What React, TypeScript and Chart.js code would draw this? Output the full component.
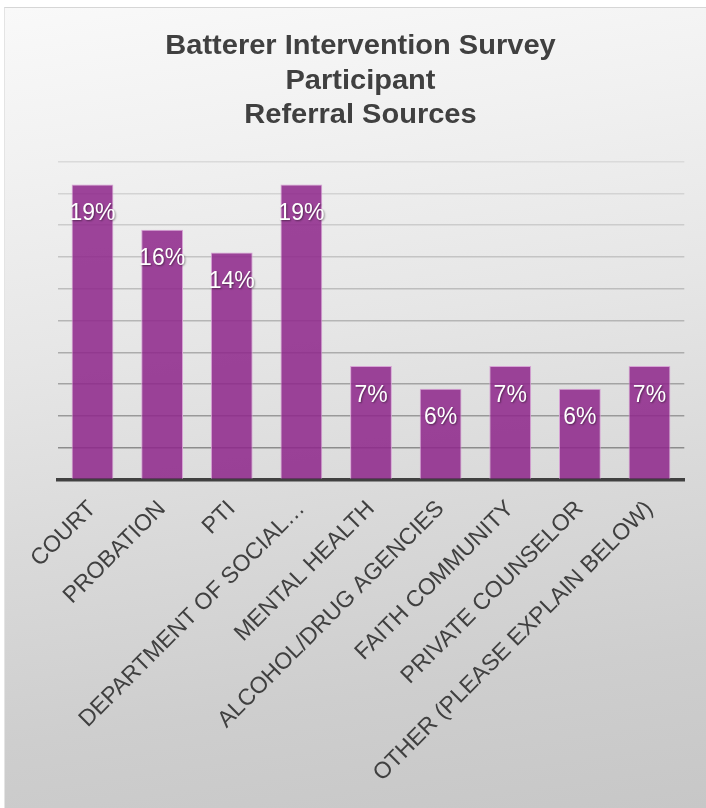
import React, { useEffect, useRef } from 'react';
import { Chart, registerables } from 'chart.js';

Chart.register(...registerables);

// ---- Data ----
const categories = [
  'COURT',
  'PROBATION',
  'PTI',
  'DEPARTMENT OF SOCIAL…',
  'MENTAL HEALTH',
  'ALCOHOL/DRUG AGENCIES',
  'FAITH COMMUNITY',
  'PRIVATE COUNSELOR',
  'OTHER (PLEASE EXPLAIN BELOW)',
];
const percentValues = [18.57, 15.71, 14.29, 18.57, 7.14, 5.71, 7.14, 5.71, 7.14];
const titleLines = ['Batterer Intervention Survey', 'Participant', 'Referral Sources'];
const yMin = 0;
const yMax = 20;
const yStep = 2;

// ---- Layout / style ----
const CANVAS_W = 702;
const CANVAS_H = 801;
const FONT = '"Liberation Sans", Arial, Helvetica, sans-serif';

const titlePlugin = {
  id: 'stackedTitle',
  afterDraw(chart: any) {
    const ctx = chart.ctx;
    titleLines.forEach((line, i) => {
      ctx.save();
      ctx.font = `bold 27px ${FONT}`;
      ctx.fillStyle = '#404040';
      ctx.textAlign = 'center';
      ctx.textBaseline = 'alphabetic';
      ctx.translate(356.5, 47 + i * 34.5);
      ctx.scale(1.075, 1);
      ctx.fillText(line, 0, 0);
      ctx.restore();
    });
  },
};

const valueLabelPlugin = {
  id: 'valueLabels',
  afterDatasetsDraw(chart: any) {
    const ctx = chart.ctx;
    const meta = chart.getDatasetMeta(0);
    ctx.save();
    ctx.font = `23px ${FONT}`;
    ctx.fillStyle = '#ffffff';
    ctx.textAlign = 'center';
    ctx.textBaseline = 'alphabetic';
    ctx.shadowColor = 'rgba(0,0,0,0.45)';
    ctx.shadowBlur = 2;
    ctx.shadowOffsetX = 1;
    ctx.shadowOffsetY = 1;
    meta.data.forEach((bar: any, i: number) => {
      const label = Math.round(percentValues[i]) + '%';
      ctx.fillText(label, bar.x, bar.y + 35.5);
    });
    ctx.restore();
  },
};

function gridShade(index: number): string {
  // darker near the bottom, lighter towards the top
  const dark = 140;
  const light = 218;
  const t = Math.min(Math.max((index - 1) / 9, 0), 1);
  const v = Math.round(dark + (light - dark) * Math.pow(t, 0.8));
  return `rgb(${v},${v},${v})`;
}

export default function App() {
  const canvasRef = useRef<HTMLCanvasElement | null>(null);

  useEffect(() => {
    document.body.style.margin = '0';
    const canvas = canvasRef.current;
    if (!canvas) return;
    const chart = new Chart(canvas, {
      type: 'bar',
      data: {
        labels: categories,
        datasets: [
          {
            data: percentValues,
            backgroundColor: 'rgba(142,39,139,0.86)',
            borderColor: 'rgba(214,160,212,0.95)',
            borderWidth: 1,
            barPercentage: 0.6,
            categoryPercentage: 1,
          },
        ],
      },
      options: {
        responsive: false,
        animation: false,
        devicePixelRatio: 1,
        layout: {
          padding: { top: 154.7, left: 53.7, right: 21.7, bottom: 0 },
        },
        plugins: {
          legend: { display: false },
          title: { display: false },
          tooltip: { enabled: false },
        },
        scales: {
          x: {
            grid: { display: false, drawTicks: false },
            border: { display: true, color: '#404040', width: 3.5 },
            ticks: {
              autoSkip: false,
              minRotation: 45,
              maxRotation: 45,
              padding: 16,
              color: '#404040',
              font: { family: FONT, size: 23 },
            },
            afterFit: (scale: any) => {
              scale.height = 328.5;
            },
          },
          y: {
            min: yMin,
            max: yMax,
            ticks: { display: false, stepSize: yStep },
            border: { display: false },
            grid: {
              drawTicks: false,
              lineWidth: 1.6,
              color: (c: any) => gridShade(c.index),
            },
          },
        },
      },
      plugins: [titlePlugin, valueLabelPlugin],
    });
    return () => chart.destroy();
  }, []);

  return (
    <div
      style={{
        position: 'absolute',
        left: 4,
        top: 7,
        width: CANVAS_W,
        height: CANVAS_H,
        boxSizing: 'border-box',
        borderTop: '1px solid #d6d6d6',
        borderLeft: '1px solid #e4e4e4',
        background:
          'linear-gradient(172deg, #f9f9f9 0%, #f1f1f1 18%, #e6e6e6 40%, #d9d9d9 62%, #cecece 82%, #c7c7c7 100%)',
      }}
    >
      <canvas
        ref={canvasRef}
        width={CANVAS_W}
        height={CANVAS_H}
        style={{ position: 'absolute', left: -1, top: -1, width: CANVAS_W, height: CANVAS_H }}
      />
    </div>
  );
}
